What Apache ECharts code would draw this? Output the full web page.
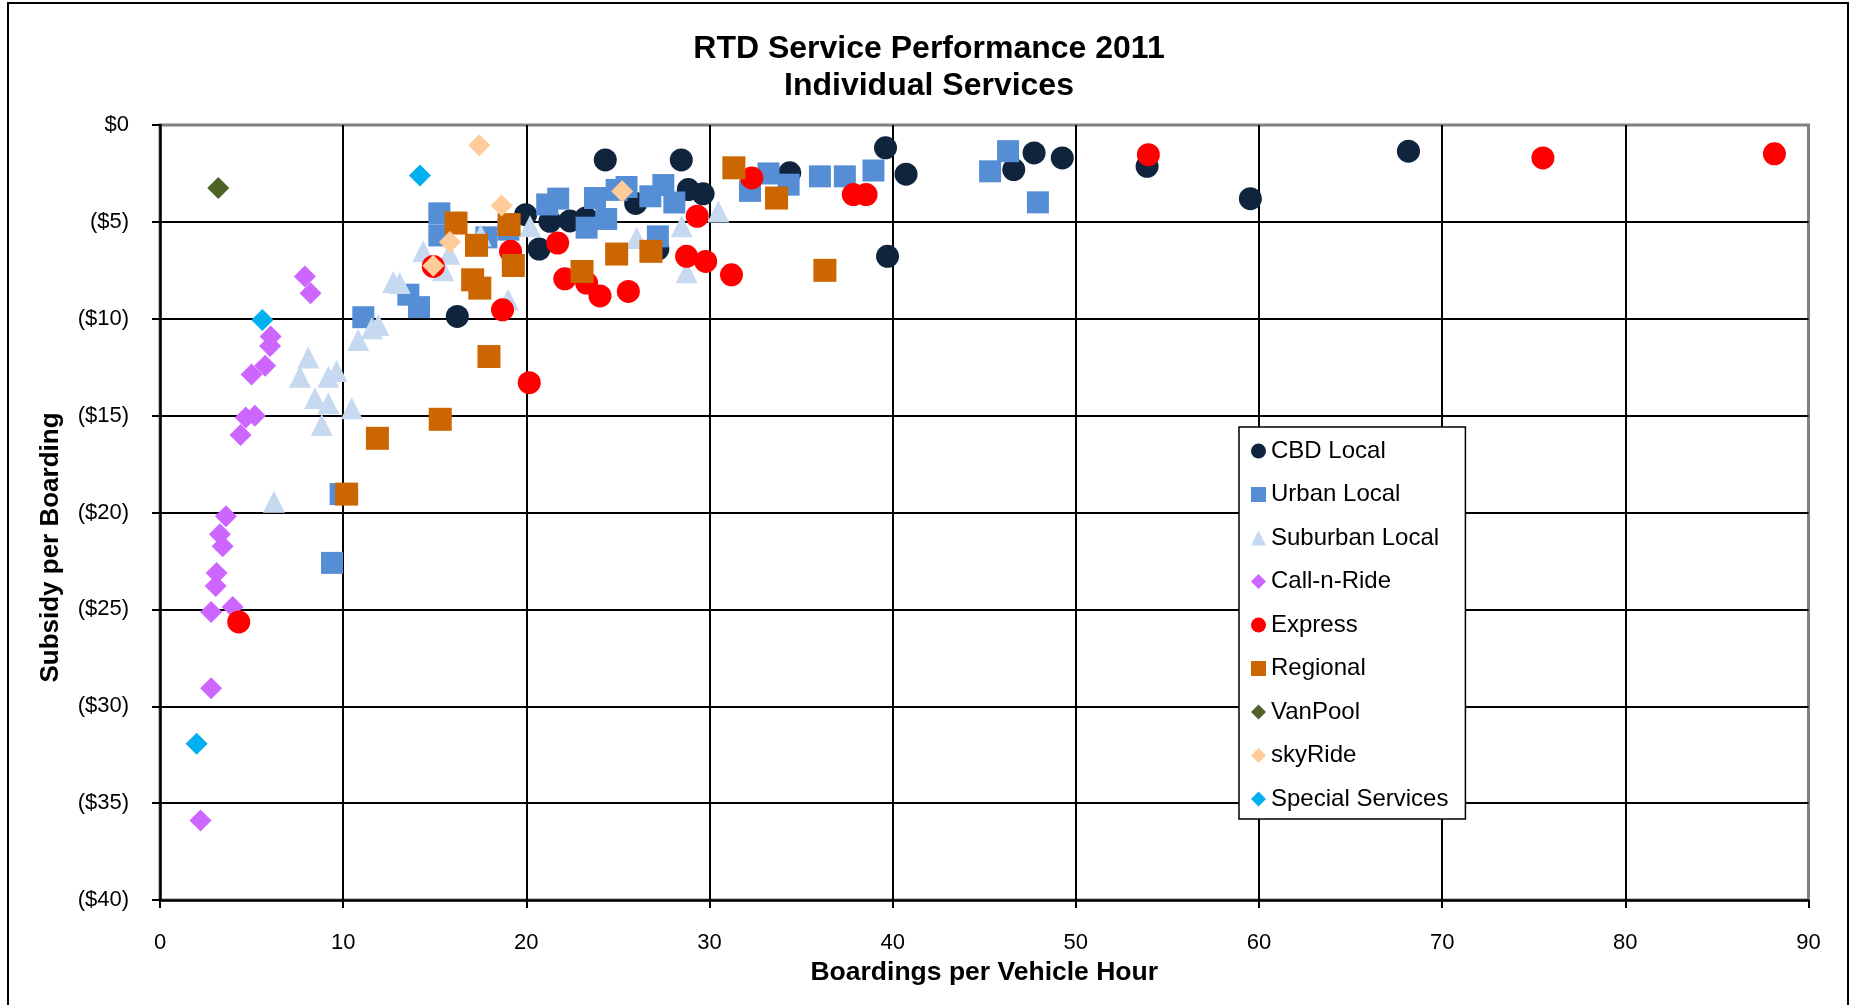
<!DOCTYPE html>
<html>
<head>
<meta charset="utf-8">
<title>RTD Service Performance 2011</title>
<script src="https://cdn.jsdelivr.net/npm/echarts@6/dist/echarts.min.js"></script>
<style>
  html, body { margin: 0; padding: 0; background: #fff; }
  #chart { width: 1858px; height: 1005px; }
</style>
</head>
<body>
<div id="chart"></div>
<script>
// [boardings per vehicle hour, subsidy per boarding ($, negative = subsidy)]
const cbdLocal = [
  [24.31, -1.8], [28.46, -1.8], [19.96, -4.63], [20.7, -6.4], [22.38, -4.95], [21.29, -4.97],
  [23.25, -4.8], [25.97, -4.05], [28.84, -3.33], [29.65, -3.55], [34.38, -2.47], [39.61, -1.18],
  [40.73, -2.54], [39.72, -6.78], [46.61, -2.3], [47.72, -1.44], [49.26, -1.7], [53.89, -2.13],
  [59.53, -3.8], [68.16, -1.35], [16.23, -9.88], [27.18, -6.4]
]
const urbanLocal = [
  [9.39, -22.6], [9.86, -19.05], [11.1, -9.92], [13.56, -8.76], [14.14, -9.4], [15.25, -4.56],
  [15.25, -5.7], [17.82, -5.8], [19.02, -5.4], [21.14, -4.1], [21.74, -3.8], [23.75, -3.77],
  [24.93, -3.35], [24.36, -4.85], [23.29, -5.3], [25.47, -3.2], [26.77, -3.68], [27.48, -3.1],
  [28.08, -4.0], [27.18, -5.75], [33.22, -2.5], [32.21, -3.4], [34.32, -3.08], [36.03, -2.65],
  [37.39, -2.65], [38.95, -2.35], [45.32, -2.39], [46.3, -1.35], [47.93, -3.99]
]
const suburbanLocal = [
  [6.22, -19.45], [8.83, -15.49], [8.46, -14.1], [9.19, -14.36], [10.47, -14.62], [7.64, -12.99],
  [9.19, -12.99], [9.64, -12.7], [8.09, -12.0], [10.82, -11.1], [11.56, -10.49], [11.92, -10.32],
  [12.73, -8.1], [13.09, -8.16], [14.37, -6.52], [15.8, -6.65], [15.46, -7.5], [17.51, -5.7],
  [20.2, -5.23], [19.01, -9.02], [26.02, -5.83], [28.48, -5.23], [28.75, -7.6], [30.48, -4.46]
]
const callNRide = [
  [7.91, -7.82], [8.22, -8.68], [6.04, -10.92], [6.01, -11.4], [5.74, -12.42], [5.0, -12.88],
  [4.68, -15.1], [5.18, -15.0], [4.4, -16.0], [3.6, -20.19], [3.27, -21.12], [3.42, -21.74],
  [3.09, -23.12], [3.04, -23.79], [2.79, -25.14], [3.97, -24.88], [2.79, -29.07], [2.21, -35.9]
]
const express = [
  [4.3, -25.65], [20.16, -13.3], [18.7, -9.54], [14.92, -7.3], [19.14, -6.52], [21.71, -6.09],
  [22.1, -7.94], [23.29, -8.16], [24.02, -8.82], [25.57, -8.59], [29.33, -4.71], [28.75, -6.78],
  [29.79, -7.04], [31.2, -7.73], [32.31, -2.73], [37.85, -3.59], [38.55, -3.59], [53.96, -1.53],
  [75.5, -1.7], [88.14, -1.49]
]
const regional = [
  [31.33, -2.21], [33.66, -3.77], [36.3, -7.5], [16.16, -5.06], [17.28, -6.21], [19.06, -5.14],
  [19.29, -7.25], [17.07, -7.99], [17.46, -8.42], [17.96, -11.95], [23.04, -7.56], [24.93, -6.66],
  [26.8, -6.52], [11.87, -16.17], [15.3, -15.19], [10.19, -19.05]
]
const vanPool = [[3.18, -3.25]]
const skyRide = [[17.43, -1.04], [18.65, -4.16], [15.83, -6.04], [14.92, -7.26], [25.23, -3.42]]
const specialServices = [[14.19, -2.61], [5.59, -10.06], [2.0, -31.94]]

const xTicks = { min: 0, max: 90, interval: 10 }
const yTicks = { min: -40, max: 0, interval: 5 }

const font = '"Liberation Sans", Arial, sans-serif'
const black = '#000'

const scatter = (name, data, symbol, color, size) => ({
  name,
  type: 'scatter',
  data,
  symbol,
  symbolSize: size,
  itemStyle: { color, opacity: 1 },
  emphasis: { disabled: true },
})

const chart = echarts.init(document.getElementById('chart'))

chart.setOption({
  backgroundColor: '#fff',
  animation: false,
  textStyle: { fontFamily: font },
  title: {
    text: 'RTD Service Performance 2011\nIndividual Services',
    left: 'center',
    top: 26,
    textStyle: { fontFamily: font, fontSize: 32, fontWeight: 'bold', color: black, lineHeight: 37 },
  },
  // outer chart frame
  graphic: [{
    type: 'rect',
    shape: { x: 8, y: 3, width: 1840, height: 1010 },
    style: { fill: 'none', stroke: black, lineWidth: 2 },
    silent: true,
  }],
  grid: {
    left: 160, right: 49.5, top: 125, bottom: 105,
    show: true, borderColor: '#808080', borderWidth: 3,
  },
  legend: {
    orient: 'vertical',
    left: 1239,
    top: 427,
    padding: [12, 17, 8, 12],
    itemGap: 19.5,
    itemWidth: 15,
    itemHeight: 15,
    borderColor: black,
    borderWidth: 1.5,
    backgroundColor: '#fff',
    textStyle: { fontFamily: font, fontSize: 24, color: black, lineHeight: 24 },
  },
  xAxis: {
    type: 'value',
    ...xTicks,
    name: 'Boardings per Vehicle Hour',
    nameLocation: 'middle',
    nameGap: 59,
    nameTextStyle: { fontFamily: font, fontSize: 26.5, fontWeight: 'bold', color: black },
    axisLine: { show: true, onZero: false, lineStyle: { color: black, width: 2.5 } },
    axisTick: { show: true, length: 8, lineStyle: { color: black, width: 2 } },
    axisLabel: { fontSize: 22, color: black, margin: 32 },
    splitLine: { show: true, showMinLine: false, showMaxLine: false, lineStyle: { color: black, width: 2 } },
  },
  yAxis: {
    type: 'value',
    ...yTicks,
    name: 'Subsidy per Boarding',
    nameLocation: 'middle',
    nameGap: 96,
    nameRotate: 90,
    nameTextStyle: { fontFamily: font, fontSize: 26, fontWeight: 'bold', color: black, padding: [0, 70, 0, 0] },
    axisLine: { show: true, onZero: false, lineStyle: { color: black, width: 2.5 } },
    axisTick: { show: true, length: 8, lineStyle: { color: black, width: 2 } },
    axisLabel: {
      fontSize: 22,
      color: black,
      margin: 31,
      formatter: (v) => (v === 0 ? '$0' : '($' + Math.abs(v) + ')'),
    },
    splitLine: { show: true, showMinLine: false, showMaxLine: false, lineStyle: { color: black, width: 2 } },
  },
  series: [
    scatter('CBD Local', cbdLocal, 'circle', '#10243E', 23),
    scatter('Urban Local', urbanLocal, 'rect', '#558ED5', 22),
    scatter('Suburban Local', suburbanLocal, 'triangle', '#C6D9F1', 22),
    scatter('Call-n-Ride', callNRide, 'diamond', '#CC66FF', 22),
    scatter('Express', express, 'circle', '#FF0000', 23),
    scatter('Regional', regional, 'rect', '#CC6600', 23),
    scatter('VanPool', vanPool, 'diamond', '#4F6228', 22),
    scatter('skyRide', skyRide, 'diamond', '#FFCC99', 22),
    scatter('Special Services', specialServices, 'diamond', '#00B0F0', 22),
  ],
})
</script>
</body>
</html>
